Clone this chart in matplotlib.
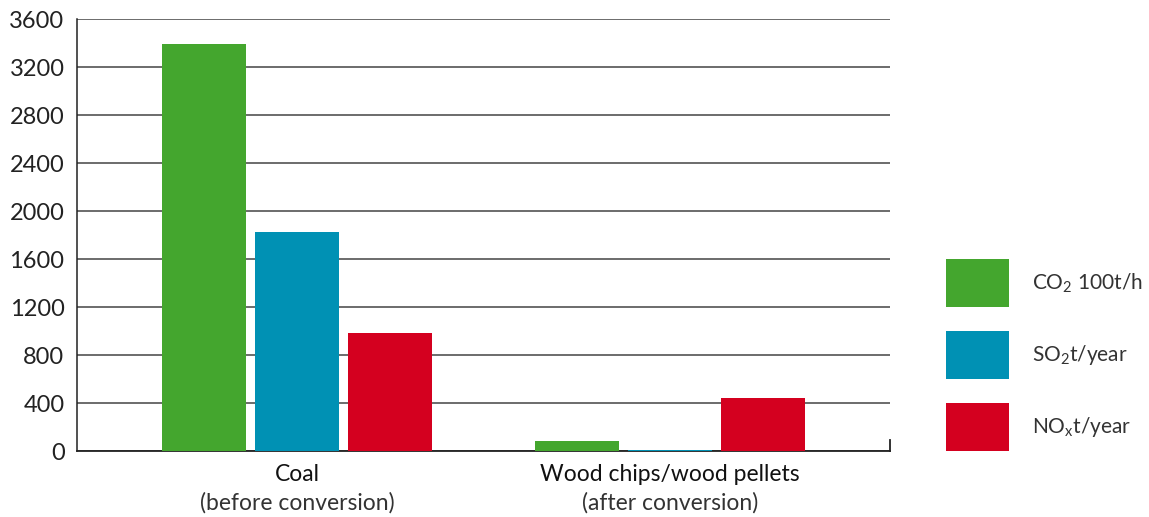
import matplotlib.pyplot as plt
import numpy as np
from matplotlib.patches import Rectangle

plt.rcParams['font.family'] = ['Lato', 'DejaVu Sans']
plt.rcParams['mathtext.fontset'] = 'custom'
plt.rcParams['mathtext.rm'] = 'Lato'
plt.rcParams['mathtext.it'] = 'Lato'

# data
groups = ['Coal', 'Wood chips/wood pellets']
group_notes = ['(before conversion)', '(after conversion)']
series = ['CO$_2$ 100t/h', 'SO$_2$t/year', 'NO$_x$t/year']
co2 = [3390, 80]
so2 = [1825, 8]
nox = [985, 440]
colors = ['#44a62e', '#0091b4', '#d4001f']

W, H = 1149, 517
fig = plt.figure(figsize=(W / 100, H / 100), dpi=100)
ax = fig.add_axes([77 / W, 1 - 451 / H, (890 - 77) / W, (451 - 19) / H])

x = np.arange(len(groups))
width = 0.225
step = 0.249
for i, (vals, col) in enumerate(zip([co2, so2, nox], colors)):
    ax.bar(x + (i - 1) * step, vals, width=width, color=col, zorder=3, label=series[i])

ax.set_xlim(-0.59, 1.59)
ax.set_ylim(0, 3600)
ax.set_yticks(np.arange(0, 3601, 400))
ax.yaxis.grid(True, color='#444444', linewidth=1.1, zorder=0)
ax.set_axisbelow(True)
ax.tick_params(axis='y', length=0, pad=9, labelsize=17, labelcolor='#222222')
ax.set_xticks([])
for s in ['top', 'right']:
    ax.spines[s].set_visible(False)
ax.spines['left'].set_color('#222222')
ax.spines['bottom'].set_color('#222222')
ax.spines['left'].set_linewidth(1.1)
ax.spines['bottom'].set_linewidth(1.3)
ax.axvline(1.59, ymin=0, ymax=0.025, color='#222222', linewidth=1.3, clip_on=False)

for xi, name, note in zip(x, groups, group_notes):
    ax.text(xi, -0.055, name, transform=ax.get_xaxis_transform(), ha='center', va='center',
            fontsize=16.5, color='#111111')
    ax.text(xi, -0.12, note, transform=ax.get_xaxis_transform(), ha='center', va='center',
            fontsize=16.5, color='#333333')

# legend boxes drawn in figure pixels
for i, (label, col) in enumerate(zip(series, colors)):
    top = 259 + i * 72
    fig.patches.append(Rectangle((946 / W, 1 - (top + 48) / H), 63 / W, 48 / H,
                                 transform=fig.transFigure, facecolor=col, edgecolor='none'))
    fig.text(1032 / W, 1 - (top + 24) / H, label, ha='left', va='center',
             fontsize=15, color='#333333')

fig.savefig('out.png', dpi=100)
